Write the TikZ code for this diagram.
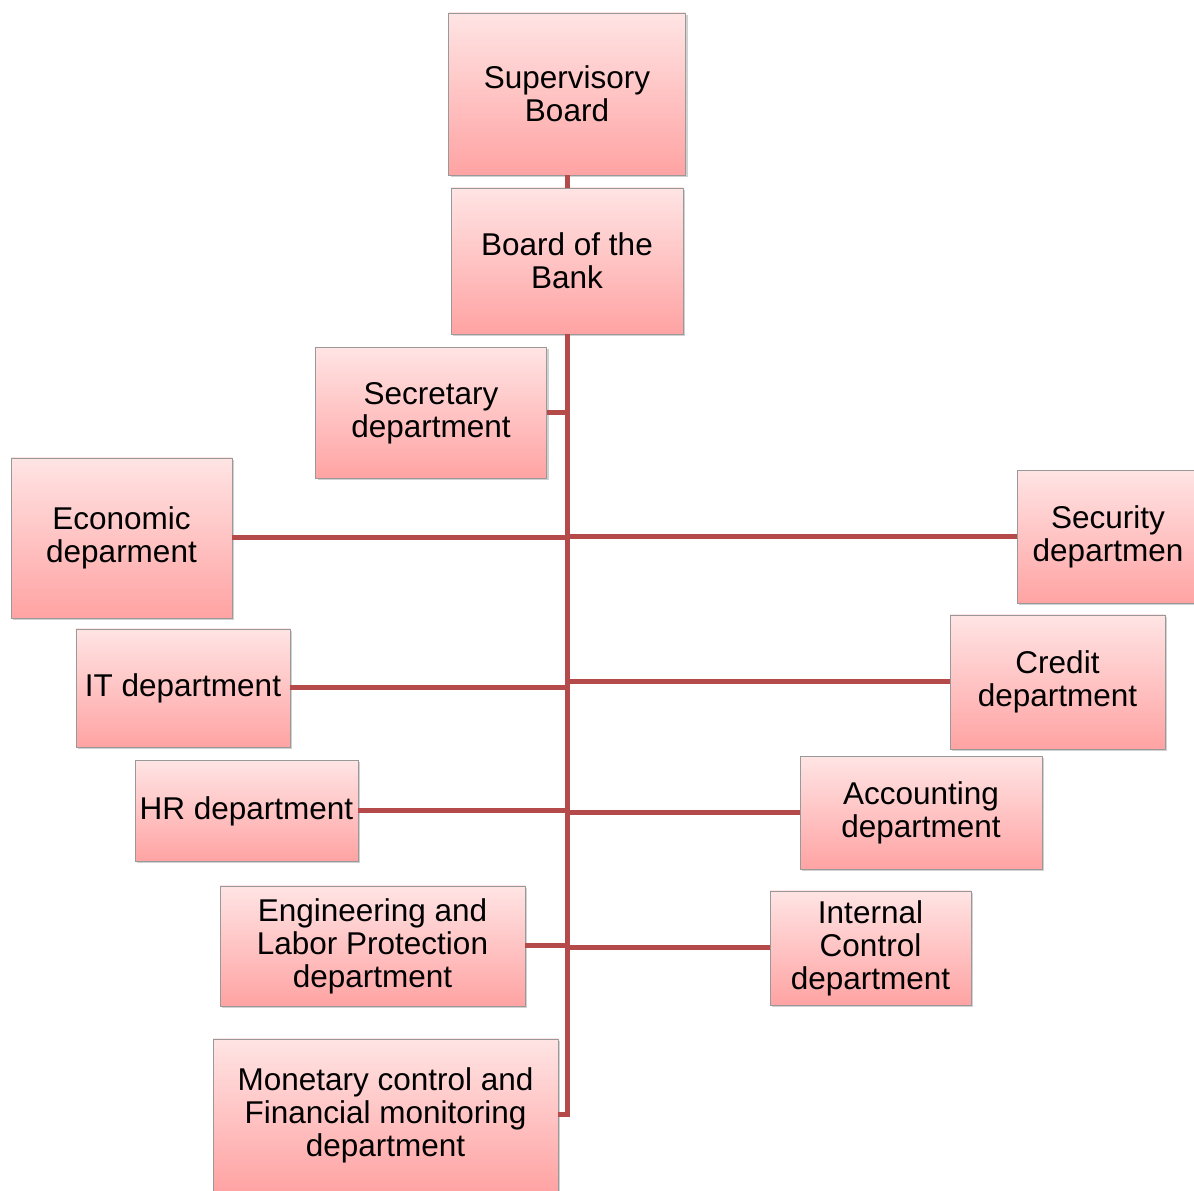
\documentclass[tikz,border=0pt]{standalone}
\usepackage{fontspec}
\setmainfont{Liberation Sans}
\usetikzlibrary{shadows}
\definecolor{linkred}{HTML}{B54A4A}
\definecolor{boxtop}{HTML}{FFE4E4}
\definecolor{boxbottom}{HTML}{FFA3A3}
\begin{document}
\begin{tikzpicture}[x=1pt,y=1pt,
    dept/.style={draw=black!40, line width=0.8pt, top color=boxtop, bottom color=boxbottom,
      drop shadow={shadow xshift=2pt, shadow yshift=-2pt, fill=black!30, opacity=0.6},
      align=center, inner sep=2pt, font=\fontsize{31.5}{33}\selectfont},
    link/.style={draw=linkred, line width=5pt}]

      \useasboundingbox (0,0) rectangle (1194,1191);

      \node[dept, minimum width=237, minimum height=162] (sup) at (567,1097) {Supervisory\\Board};
      \node[dept, minimum width=232, minimum height=146] (board) at (567,930) {Board of the\\Bank};
      \node[dept, minimum width=231, minimum height=131] (sec) at (431,778) {Secretary\\department};

      \node[dept, minimum width=221, minimum height=160] (eco) at (121.5,653) {Economic\\deparment};
      \node[dept, minimum width=214, minimum height=118] (it) at (183,503) {IT department};
      \node[dept, minimum width=223, minimum height=101] (hr) at (246.5,380) {HR department};
      \node[dept, minimum width=305, minimum height=120] (eng) at (372.5,245) {Engineering and\\Labor Protection\\department};
      \node[dept, minimum width=345, minimum height=152] (mon) at (385.5,76) {Monetary control and\\Financial monitoring\\department};

      \node[dept, minimum width=182, minimum height=133] (secur) at (1108,654) {Security\\departmen};
      \node[dept, minimum width=215, minimum height=134] (cred) at (1057.5,509) {Credit\\department};
      \node[dept, minimum width=242, minimum height=113] (acc) at (921,378) {Accounting\\department};
      \node[dept, minimum width=201, minimum height=114] (intc) at (870.5,243) {Internal\\Control\\department};

      \draw[link] (sup.south) -- (board.north);
      \draw[link] (board.south) |- (sec.east);
      \draw[link] (board.south) |- (eco.east);
      \draw[link] (board.south) |- (it.east);
      \draw[link] (board.south) |- (hr.east);
      \draw[link] (board.south) |- (eng.east);
      \draw[link] (board.south) |- (mon.east);
      \draw[link] (board.south) |- (secur.west);
      \draw[link] (board.south) |- (cred.west);
      \draw[link] (board.south) |- (acc.west);
      \draw[link] (board.south) |- (intc.west);
    \end{tikzpicture}
\end{document}
